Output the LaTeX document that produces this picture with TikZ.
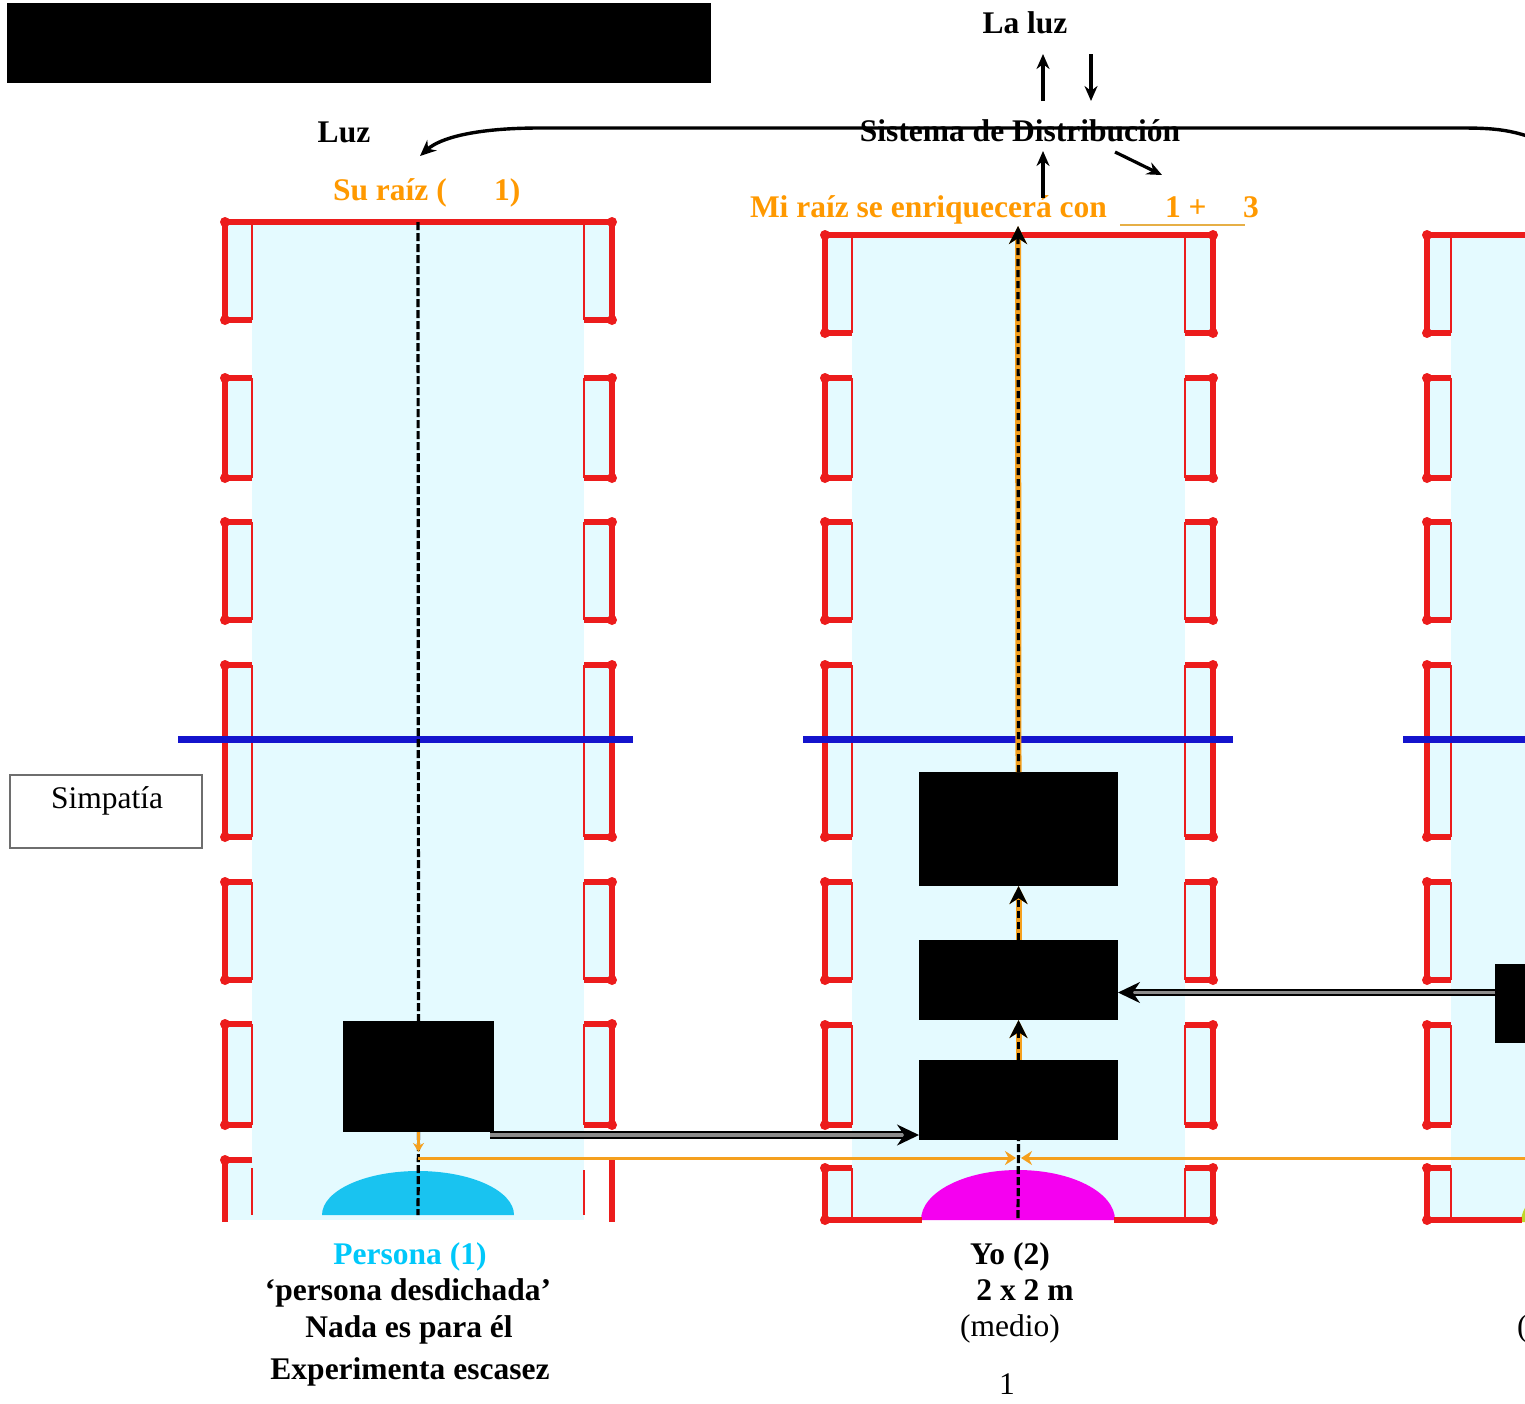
\documentclass[tikz,border=0pt]{standalone}
\usepackage{fontspec}
\setmainfont{Liberation Serif}
\usetikzlibrary{arrows.meta}
\definecolor{wred}{RGB}{236,28,28}
\definecolor{wcyan}{RGB}{228,250,255}
\definecolor{worange}{RGB}{255,153,0}
\definecolor{lorange}{RGB}{245,160,30}
\definecolor{uorange}{RGB}{230,175,70}
\definecolor{pcyan}{RGB}{0,200,250}
\definecolor{dome1}{RGB}{25,195,240}
\definecolor{dome2}{RGB}{245,0,240}
\definecolor{dome3}{RGB}{190,215,40}
\definecolor{wblue}{RGB}{20,20,205}
\definecolor{gline}{RGB}{140,140,140}
\definecolor{sgray}{RGB}{110,110,110}
\newcommand{\mywin}[4]{%
  \fill[wcyan] (#1,#3) rectangle (#2,#4);
  \draw[wred, line width=2.2pt] (#2,#3) -- (#2,#4);
  \draw[wred, line width=5.5pt, line join=round] (#2,#3) -- (#1,#3) -- (#1,#4) -- (#2,#4);
  \fill[wred] (#1,#3) circle[radius=5] (#1,#4) circle[radius=5];
}
\begin{document}
\begin{tikzpicture}[x=1pt,y=-1pt,
  every node/.style={inner sep=0pt, outer sep=0pt},
  rt/.style={font=\fontsize{31.5}{36}\selectfont, anchor=base},
  bt/.style={font=\fontsize{31.5}{36}\selectfont\bfseries, anchor=base},
  blk/.style={fill=black, draw=none, inner sep=0pt},
  arr/.style={line width=3.2pt, -{Stealth[length=15pt,width=13pt]}},
  midln/.style={preaction={draw=lorange, line width=6pt}, draw=black, line width=3.2pt, dash pattern=on 7pt off 4pt},
  midtip/.style={-{Stealth[length=18pt,width=18pt]}},
  lftln/.style={draw=black, line width=3.2pt, dash pattern=on 8pt off 3pt},
  garr/.style={double=gline, double distance=3.5pt, line width=2.2pt, -{Stealth[length=22pt,width=21pt]}},
  oarr/.style={lorange, line width=3pt, -{Stealth[length=11pt,width=14pt]}},
  blueln/.style={wblue, line width=7pt},
  topln/.style={wred, line width=5.5pt}
]
\useasboundingbox (0,0) rectangle (1525,1403);
\fill[white] (0,0) rectangle (1525,1403);

% column backgrounds
\fill[wcyan] (252,222) rectangle (584,1220);
\fill[wcyan] (852,235) rectangle (1185,1220);
\fill[wcyan] (1451,235) rectangle (1620,1220);

% domes
\fill[dome1] (322,1215) arc[start angle=180, end angle=360, x radius=96, y radius=44] -- cycle;
\fill[dome2] (921,1220) arc[start angle=180, end angle=360, x radius=97, y radius=50] -- cycle;
\fill[dome3] (1521,1222) arc[start angle=180, end angle=360, x radius=97, y radius=50] -- cycle;

% left column windows
\foreach \t/\b in {222/320,378/478,522/620,665/837,882/980,1024/1125}{
  \mywin{225}{252}{\t}{\b}
  \mywin{612}{584}{\t}{\b}
}
\fill[wcyan] (225,1160) rectangle (252,1220);
\draw[wred, line width=2.2pt] (252,1168) -- (252,1215) (584,1170) -- (584,1215);
\draw[wred, line width=5.5pt] (252,1160) -- (225,1160) -- (225,1222) (612,1160) -- (612,1222);
\fill[wred] (225,1160) circle[radius=5];
\draw[topln] (252,222) -- (584,222);

% middle column windows
\foreach \t/\b in {235/333,378/478,522/620,665/837,882/980,1025/1125,1168/1220}{
  \mywin{825}{852}{\t}{\b}
  \mywin{1213}{1185}{\t}{\b}
}
\draw[topln] (852,235) -- (1185,235);
\draw[topln] (852,1220) -- (922,1220) (1114,1220) -- (1185,1220);

% right column windows
\foreach \t/\b in {235/333,378/478,522/620,665/837,882/980,1025/1125,1168/1220}{
  \mywin{1427}{1451}{\t}{\b}
}
\draw[topln] (1451,235) -- (1620,235);
\draw[topln] (1451,1220) -- (1522,1220);

% blue lines
\draw[blueln] (178,739) -- (633,739);
\draw[blueln] (803,739) -- (1233,739);
\draw[blueln] (1403,739) -- (1620,739);

% boxes
\node[fill=black, minimum width=704pt, minimum height=80pt] (redact) at (359,43) {};
\node[blk, minimum width=151pt, minimum height=111pt] (lb) at (418.5,1076.5) {};
\node[blk, minimum width=199pt, minimum height=114pt] (mb1) at (1018.5,829) {};
\node[blk, minimum width=199pt, minimum height=80pt] (mb2) at (1018.5,980) {};
\node[blk, minimum width=199pt, minimum height=80pt] (mb3) at (1018.5,1100) {};
\node[blk, minimum width=100pt, minimum height=79pt] (rb) at (1545,1003.5) {};

% left dashed axis
\draw[lftln] (418,222) -- (lb.north);
\draw[lftln] (lb.south) -- (418,1215);
\draw[lorange, line width=2.5pt, -{Stealth[length=9pt,width=11pt]}] (lb.south) -- ++(0,20);

% middle axis
\coordinate (mbot) at (1018,1218);
\coordinate (mtop) at (1018,226);
\draw[lftln] (mbot) -- (mb3.south);
\draw[midln, midtip] (mb3.north) -- (mb2.south);
\draw[midln, midtip] (mb2.north) -- (mb1.south);
\draw[midln, midtip] (mb1.north) -- (mtop);

% orange line
\coordinate (ol) at (418,1158);
\coordinate (or) at (1620,1158);
\coordinate (oc1) at (1016,1158);
\coordinate (oc2) at (1021,1158);
\draw[oarr] (ol) -- (oc1);
\draw[oarr] (or) -- (oc2);

% gray arrows
\path (lb.south east) ++(-4,3) coordinate (la);
\draw[garr] (la) -- (la -| mb3.west);
\path (rb.west) ++(0,-11) coordinate (ra);
\draw[garr] (ra) -- (ra -| mb2.east);

% top curve
\coordinate (rc) at (1560,150);
\coordinate (ltip) at (420,156);
\draw[line width=3.4pt, -{Stealth[length=16pt,width=14pt]}] (rc) .. controls (1520,130) and (1500,128) .. (1460,128) -- (540,128) .. controls (475,128) and (440,138) .. (ltip);

% top texts
\node[bt] (laluz) at (1025,33) {La luz};
\node[bt] (sis) at (1020,141) {Sistema de Distribución};
\node[bt] (luz) at (344,142) {Luz};
\node[bt, text=worange, anchor=base west] (suraiz) at (333,200) {Su raíz (};
\node[bt, text=worange, anchor=base west] (suno) at (494,200) {1)};
\node[bt, text=worange, anchor=base west] (miraiz) at (750,217) {Mi raíz se enriquecerá con};
\node[bt, text=worange, anchor=base west] (unomas) at (1165,217) {1 +};
\node[bt, text=worange, anchor=base west] (tres) at (1243,217) {3};
\coordinate (ul1) at (1120,225);
\coordinate (ul2) at (1245,225);
\draw[uorange, line width=1.8pt] (ul1) -- (ul2);

% small arrows near Sistema
\coordinate (ua1) at (1043,101); \coordinate (ua2) at (1043,54);
\coordinate (da1) at (1091,54); \coordinate (da2) at (1091,101);
\coordinate (ub1) at (1043,198); \coordinate (ub2) at (1043,151);
\coordinate (dg1) at (1115,152); \coordinate (dg2) at (1162,175);
\draw[arr] (ua1) -- (ua2);
\draw[arr] (da1) -- (da2);
\draw[arr] (ub1) -- (ub2);
\draw[arr] (dg1) -- (dg2);

% Simpatia
\node[draw=sgray, line width=1.8pt, minimum width=192pt, minimum height=73pt, anchor=north west] (simp) at (10,775) {};
\node[rt] (simptxt) at (107,808) {Simpatía};

% bottom labels
\node[bt, text=pcyan] (pers) at (410,1264) {Persona (1)};
\node[bt] (desd) at (408,1300) {‘persona desdichada’};
\node[bt] (nada) at (409,1337) {Nada es para él};
\node[bt] (expe) at (410,1379) {Experimenta escasez};
\node[bt] (yo) at (1010,1264) {Yo (2)};
\node[bt] (dim) at (1025,1300) {2 x 2 m};
\node[rt] (medio) at (1010,1336) {(medio)};
\node[rt] (pag) at (1007,1394) {1};
\node[rt, anchor=base west] (rp) at (1517,1336) {(};
\end{tikzpicture}
\end{document}
